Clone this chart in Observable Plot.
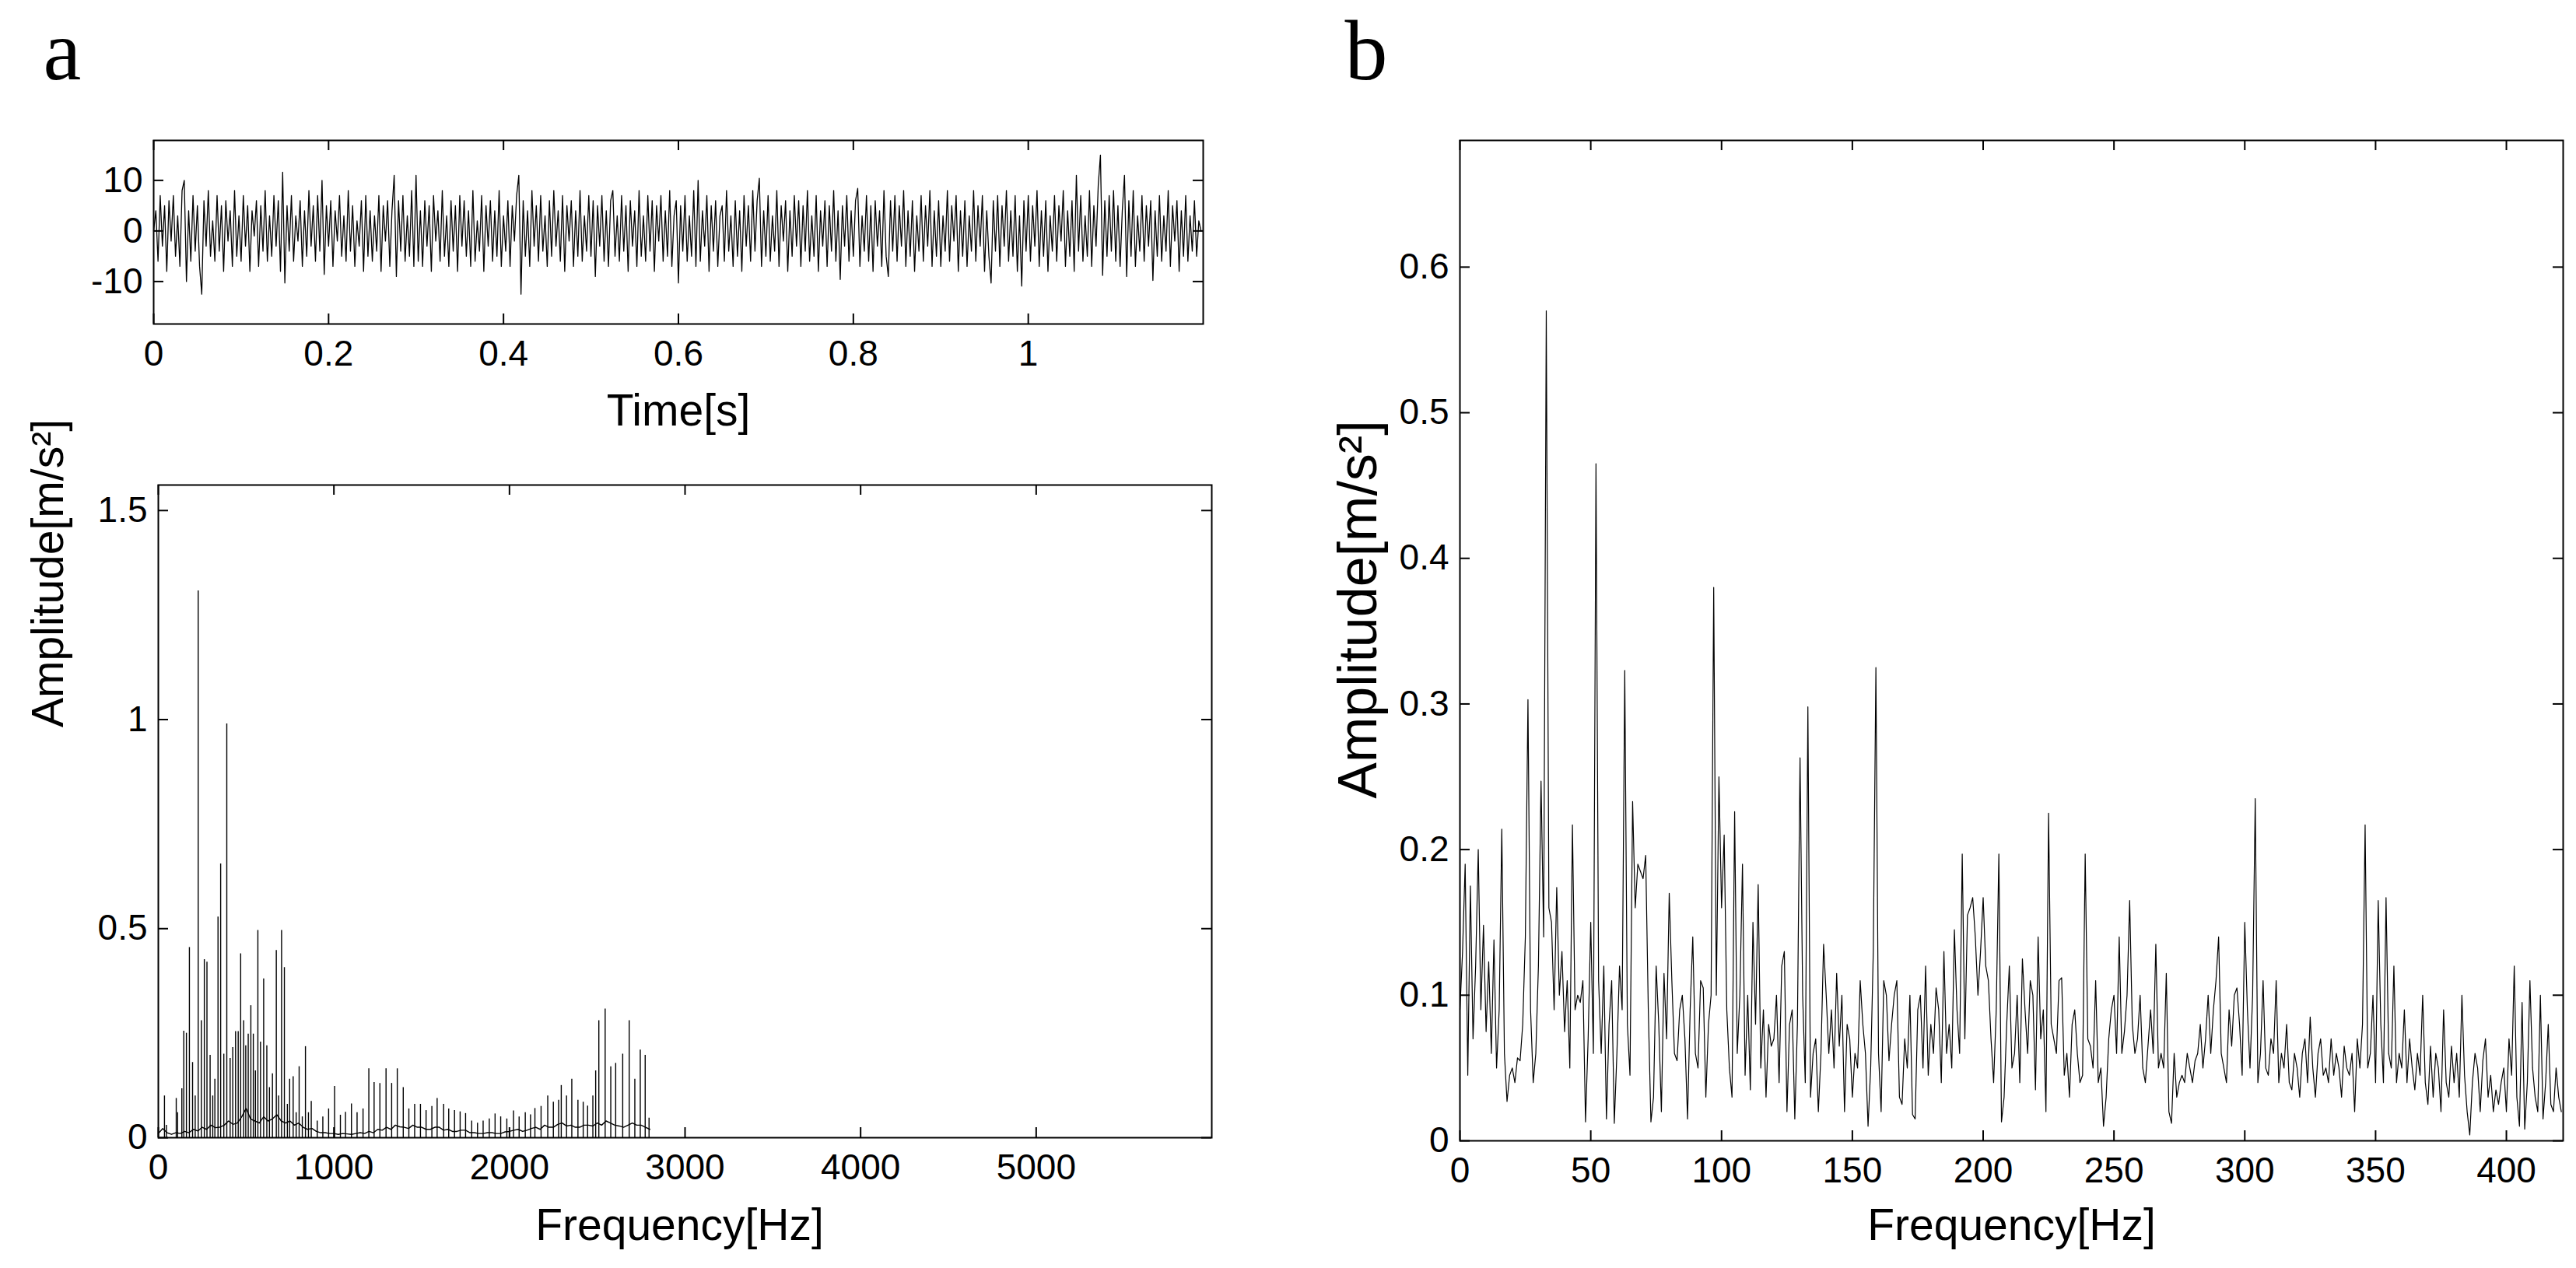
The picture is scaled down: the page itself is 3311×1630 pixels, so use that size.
<!DOCTYPE html>
<html><head><meta charset="utf-8">
<script src="https://cdn.jsdelivr.net/npm/d3@7"></script>
<script src="https://cdn.jsdelivr.net/npm/@observablehq/plot@0.6"></script>
<style>
html,body{margin:0;padding:0;background:#fff;}
#fig{position:relative;width:3311px;height:1630px;background:#fff;overflow:hidden;}
#fig svg{position:absolute;}
</style></head><body><div id="fig"></div>
<script>
// ---------- Panel a (top): time signal, sampled every 2.5 ms ----------
const signalDt = 0.0025;
const signal = [
 0,4,-6,7,-3,5,-8,6,-2,7,-5,3,-7,8,10,-10,4,-6,7,-4,
 5,-7,-12.5,6,-3,8,-5,2,-6,7,-4,5,-8,6,-2,4,-7,8,-5,3,
 -6,7,-3,5,-8,4,-1,6,-7,5,-4,8,-6,3,-5,7,-3,6,-8,11.6,
 -10.3,5,-4,7,-6,3,-2,6,-7,4,-5,8,-3,5,-6,7,-4,10,-8.6,5,
 -3,6,-7,4,-2,7,-5,3,-6,8,-4,5,-7,2,-3,6,-8,7,-5,4,
 -6,3,-4,7,-8,5,-2,6,-7,4,11,-9,6,-4,7,-6,3,-5,8,-7,
 11,-6,4,-7,6,-3,5,-8,7,-2,4,-6,8,-5,3,-7,6,-4,5,-8,
 7,-3,6,-5,4,-7,8,-6,2,-4,7,-8,5,-3,6,-6,4,-5,8,-7,
 3,-4,6,-7,5,-2,7,11,-12.5,6,-5,4,-7,8,-3,5,-6,7,-4,3,
 -7,6,-5,8,-3,4,-6,7,-8,5,-2,6,-7,4,-5,8,-6,3,-4,7,
 -5,6,-9,5,-3,7,-6,4,-7,6,8,-5,3,-6,7,-4,5,-8,6,-3,
 4,-7,8,-5,3,-6,7,-4,6,-8,5,-2,7,-6,4,-5,8,-7,3,6,
 -10.3,5,-4,7,-6,3,-5,8,-7,10,-6,4,-3,7,-8,5,-4,6,-7,3,
 5,-6,8,-4,3,-7,6,-5,4,-8,7,-3,5,-6,8,-4,6,10.4,-7,4,
 -5,7,-6,3,-4,8,-7,5,-2,6,-8,4,-5,7,-3,6,-7,5,-4,8,
 -6,3,-5,7,-8,4,-3,6,-7,5,-4,8,-6,4,-9.6,5,-3,7,-6,4,
 -5,6,8.4,-7,3,-4,7,-6,5,-8,6,-3,4,-7,8,-5,-9,6,-4,7,
 -6,5,-3,8,-7,4,-5,6,-8,3,-4,7,-6,5,-3,8,-7,4,-5,6,
 -7,3,-4,8,-6,5,-2,7,-8,4,-5,6,-7,3,-4,8,-6,5,-3,7,
 -8,4,-5,-10.3,6,-4,7,-7,5,-3,8,-6,4,-5,7,-8,3,-10.9,6,-4,
 7,-6,5,-3,8,-7,4,-5,6,-8,3,-4,7,-6,5,-2,8,-7,4,-5,
 6,-8,11,-4,7,-6,3,-5,8,-7,5,-3,9,15,-8.8,6,-5,7,-4,8,
 -6,5,-7,4,11,-9,6,-5,8,-7,3,-4,7,-6,5,-3,6,-9.8,4,-5,
 7,-6,3,-4,8,-7,5,-2,6,-8,4,-5,7,-6,3,-4,6,-5,2,0
];
const timeTicks = [0, 0.2, 0.4, 0.6, 0.8, 1];
const signalTicks = [-10, 0, 10];

// ---------- Panel a (bottom): spectrum up to 2800 Hz ----------
const aBaseStepHz = 25;
const aBase = [
 0.01,0.022,0.012,0.008,0.012,0.01,0.015,0.012,0.02,0.016,0.025,0.02,0.03,0.024,0.025,0.03,0.04,0.032,0.035,0.05,
 0.07,0.045,0.04,0.035,0.05,0.04,0.045,0.055,0.04,0.035,0.04,0.03,0.035,0.025,0.02,0.022,0.015,0.012,0.012,0.01,
 0.01,0.008,0.01,0.009,0.008,0.01,0.012,0.01,0.015,0.012,0.02,0.018,0.025,0.02,0.03,0.026,0.025,0.022,0.03,0.025,
 0.025,0.02,0.02,0.025,0.025,0.018,0.02,0.015,0.015,0.018,0.018,0.012,0.012,0.01,0.01,0.012,0.012,0.01,0.01,0.014,
 0.015,0.018,0.02,0.015,0.018,0.022,0.025,0.02,0.03,0.025,0.025,0.032,0.035,0.028,0.03,0.025,0.025,0.03,0.03,0.028,
 0.035,0.03,0.04,0.035,0.03,0.028,0.025,0.03,0.035,0.03,0.03,0.025,0.02
];
const aSpikes = [[35,0.10],[46,0.03],[102,0.094],[110,0.06],[134,0.117],[145,0.255],[160,0.25],[177,0.455],[195,0.18],[210,0.10],
 [227,1.308],[245,0.28],[262,0.426],[277,0.42],[295,0.197],[310,0.10],[322,0.14],[340,0.528],[355,0.655],[373,0.20],
 [390,0.99],[409,0.19],[424,0.216],[440,0.254],[455,0.254],[469,0.44],[486,0.28],[498,0.22],[512,0.248],[527,0.316],
 [541,0.248],[553,0.16],[567,0.496],[582,0.229],[600,0.38],[618,0.22],[633,0.12],[650,0.153],[672,0.448],[685,0.10],
 [702,0.496],[718,0.407],[735,0.08],[748,0.14],[768,0.146],[785,0.06],[802,0.17],[820,0.05],[838,0.218],[855,0.06],
 [871,0.087],[905,0.04],[937,0.05],[970,0.069],[1004,0.123],[1037,0.054],[1066,0.061],[1100,0.081],[1132,0.06],[1166,0.069],
 [1199,0.165],[1229,0.132],[1262,0.13],[1297,0.165],[1329,0.13],[1361,0.165],[1395,0.12],[1427,0.069],[1460,0.08],[1493,0.08],
 [1525,0.065],[1558,0.075],[1588,0.094],[1625,0.08],[1654,0.069],[1687,0.065],[1719,0.062],[1750,0.058],[1785,0.04],[1818,0.035],
 [1850,0.04],[1885,0.045],[1918,0.057],[1950,0.05],[1985,0.045],[2023,0.064],[2055,0.05],[2090,0.06],[2120,0.055],[2145,0.07],
 [2180,0.075],[2218,0.10],[2250,0.085],[2280,0.09],[2295,0.125],[2325,0.10],[2355,0.14],[2390,0.09],[2420,0.085],[2445,0.076],
 [2475,0.10],[2491,0.16],[2509,0.28],[2545,0.308],[2577,0.17],[2605,0.178],[2645,0.20],[2682,0.28],[2714,0.14],[2745,0.21],
 [2773,0.197],[2795,0.047]];
const aFreqTicks = [0, 1000, 2000, 3000, 4000, 5000];
const aAmpTicks = [0, 0.5, 1, 1.5];

// ---------- Panel b: zoomed spectrum 0-421 Hz, 1 Hz bins ----------
const bStepHz = 1;
const bAmp = [
 0.09,0.13,0.19,0.045,0.175,0.07,0.12,0.2,0.09,0.148,0.075,0.123,0.06,0.138,0.05,0.09,0.214,0.06,0.027,0.045,
 0.05,0.04,0.057,0.055,0.08,0.14,0.303,0.09,0.04,0.06,0.12,0.247,0.14,0.57,0.16,0.15,0.09,0.174,0.1,0.13,
 0.075,0.11,0.05,0.217,0.09,0.1,0.095,0.11,0.013,0.07,0.15,0.06,0.465,0.11,0.06,0.12,0.015,0.08,0.11,0.012,
 0.06,0.12,0.09,0.323,0.08,0.045,0.233,0.16,0.19,0.185,0.18,0.196,0.09,0.013,0.03,0.12,0.08,0.02,0.115,0.07,
 0.17,0.11,0.06,0.055,0.09,0.1,0.07,0.015,0.09,0.14,0.06,0.05,0.11,0.105,0.03,0.08,0.1,0.38,0.1,0.25,
 0.16,0.21,0.09,0.05,0.03,0.226,0.06,0.1,0.19,0.045,0.1,0.035,0.15,0.08,0.176,0.05,0.09,0.03,0.08,0.065,
 0.07,0.1,0.04,0.12,0.13,0.02,0.08,0.09,0.015,0.08,0.263,0.1,0.04,0.298,0.03,0.06,0.07,0.02,0.06,0.135,
 0.1,0.06,0.09,0.05,0.115,0.065,0.1,0.02,0.08,0.07,0.03,0.06,0.05,0.11,0.08,0.06,0.01,0.05,0.13,0.325,
 0.06,0.02,0.11,0.1,0.055,0.08,0.1,0.11,0.03,0.025,0.07,0.05,0.1,0.018,0.015,0.09,0.1,0.05,0.12,0.045,
 0.08,0.06,0.105,0.09,0.04,0.13,0.06,0.08,0.05,0.145,0.09,0.06,0.197,0.07,0.155,0.16,0.167,0.14,0.1,0.13,
 0.167,0.12,0.11,0.07,0.04,0.09,0.197,0.013,0.03,0.08,0.12,0.05,0.06,0.1,0.04,0.125,0.09,0.06,0.11,0.1,
 0.035,0.14,0.07,0.09,0.02,0.225,0.08,0.07,0.06,0.11,0.112,0.045,0.06,0.03,0.08,0.09,0.06,0.04,0.045,0.197,
 0.07,0.065,0.05,0.11,0.04,0.05,0.01,0.03,0.07,0.09,0.1,0.06,0.14,0.06,0.075,0.1,0.165,0.08,0.06,0.07,
 0.1,0.05,0.04,0.065,0.09,0.06,0.135,0.05,0.06,0.05,0.115,0.02,0.012,0.06,0.03,0.04,0.045,0.04,0.06,0.05,
 0.04,0.055,0.06,0.08,0.05,0.07,0.1,0.06,0.09,0.11,0.14,0.06,0.05,0.04,0.09,0.065,0.1,0.105,0.08,0.045,
 0.15,0.09,0.05,0.1,0.235,0.04,0.06,0.11,0.05,0.045,0.07,0.06,0.11,0.04,0.06,0.05,0.08,0.04,0.035,0.06,
 0.05,0.03,0.06,0.07,0.04,0.085,0.05,0.03,0.06,0.07,0.045,0.05,0.04,0.07,0.045,0.06,0.05,0.03,0.065,0.05,
 0.045,0.06,0.02,0.07,0.05,0.08,0.217,0.05,0.06,0.1,0.04,0.165,0.08,0.04,0.167,0.06,0.05,0.12,0.04,0.06,
 0.05,0.09,0.04,0.07,0.05,0.035,0.06,0.045,0.1,0.04,0.025,0.065,0.03,0.06,0.05,0.02,0.09,0.04,0.03,0.065,
 0.04,0.06,0.03,0.1,0.045,0.02,0.004,0.04,0.06,0.05,0.02,0.055,0.07,0.03,0.045,0.02,0.035,0.025,0.04,0.05,
 0.02,0.07,0.045,0.12,0.03,0.01,0.095,0.008,0.04,0.11,0.05,0.03,0.02,0.1,0.015,0.04,0.08,0.025,0.02,0.05,
 0.03,0.02
];
const bFreqTicks = [0, 50, 100, 150, 200, 250, 300, 350, 400];
const bAmpTicks = [0, 0.1, 0.2, 0.3, 0.4, 0.5, 0.6];

// ---------- drawing ----------
const SANS = "'Liberation Sans', Arial, sans-serif";
const SERIF = "'Liberation Serif', 'Times New Roman', serif";
const TICK_FS = 46, LABEL_FS = 57, B_YLABEL_FS = 70, LETTER_FS = 110, TICK_LEN = 13;
const fig = document.getElementById("fig");

function panel({left, top, width, height, frame, xDomain, yDomain, xTicks, yTicks, marks}) {
  const [fx0, fx1, fy0, fy1] = frame;
  const innerW = fx1 - fx0, innerH = fy1 - fy0;
  const svg = Plot.plot({
    width, height,
    marginLeft: fx0 - left, marginRight: left + width - fx1,
    marginTop: fy0 - top, marginBottom: top + height - fy1,
    x: {domain: xDomain, label: null},
    y: {domain: yDomain, label: null},
    style: {fontFamily: SANS, fontSize: TICK_FS + "px", color: "#000", background: "transparent", overflow: "visible"},
    marks: [
      ...marks,
      Plot.tickX(xTicks, {x: d => d, insetTop: innerH - TICK_LEN, stroke: "#000", strokeWidth: 2}),
      Plot.tickX(xTicks, {x: d => d, insetBottom: innerH - TICK_LEN, stroke: "#000", strokeWidth: 2}),
      Plot.tickY(yTicks, {y: d => d, insetRight: innerW - TICK_LEN, stroke: "#000", strokeWidth: 2}),
      Plot.tickY(yTicks, {y: d => d, insetLeft: innerW - TICK_LEN, stroke: "#000", strokeWidth: 2}),
      Plot.axisX(xTicks, {anchor: "bottom", tickSize: 0, tickPadding: 21, tickFormat: d => String(d), fontSize: TICK_FS, label: null}),
      Plot.axisY(yTicks, {anchor: "left", tickSize: 0, tickPadding: 14, tickFormat: d => String(d), fontSize: TICK_FS, label: null}),
      Plot.frame({stroke: "#000", strokeWidth: 2})
    ]
  });
  svg.style.left = left + "px";
  svg.style.top = top + "px";
  fig.appendChild(svg);
}

// a (top)
panel({
  left: 0, top: 0, width: 1600, height: 600,
  frame: [197, 1546, 180, 416],
  xDomain: [0, 1.2], yDomain: [-18.4, 17.9],
  xTicks: timeTicks, yTicks: signalTicks,
  marks: [
    Plot.line(signal, {x: (d, i) => i * signalDt, y: d => d, stroke: "#000", strokeWidth: 1.3}),
    Plot.text(["Time[s]"], {text: d => d, frameAnchor: "bottom", textAnchor: "middle", dy: 130, lineAnchor: "bottom", fontSize: LABEL_FS, fontFamily: SANS}),
    Plot.text(["a"], {text: d => d, frameAnchor: "top-left", textAnchor: "start", dx: -142, dy: -79, lineAnchor: "bottom", fontSize: LETTER_FS, fontFamily: SERIF})
  ]
});

// a (bottom)
panel({
  left: 0, top: 500, width: 1600, height: 1130,
  frame: [203, 1557, 623, 1462],
  xDomain: [0, 6000], yDomain: [0, 1.561],
  xTicks: aFreqTicks, yTicks: aAmpTicks,
  marks: [
    Plot.ruleX(aSpikes, {x: d => d[0], y1: 0, y2: d => d[1], stroke: "#000", strokeWidth: 1.4}),
    Plot.line(aBase, {x: (d, i) => i * aBaseStepHz, y: d => d, stroke: "#000", strokeWidth: 1.4}),
    Plot.text(["Frequency[Hz]"], {text: d => d, frameAnchor: "bottom", textAnchor: "middle", dx: -7, dy: 131, lineAnchor: "bottom", fontSize: LABEL_FS, fontFamily: SANS}),
    Plot.text(["Amplitude[m/s²]"], {text: d => d, frameAnchor: "left", textAnchor: "middle", rotate: -90, dx: -123, dy: -306, lineAnchor: "bottom", fontSize: LABEL_FS, fontFamily: SANS})
  ]
});

// b
panel({
  left: 1600, top: 0, width: 1711, height: 1630,
  frame: [1876, 3294, 180, 1466],
  xDomain: [0, 421.7], yDomain: [0, 0.687],
  xTicks: bFreqTicks, yTicks: bAmpTicks,
  marks: [
    Plot.line(bAmp, {x: (d, i) => i * bStepHz, y: d => d, stroke: "#000", strokeWidth: 1.2}),
    Plot.text(["Frequency[Hz]"], {text: d => d, frameAnchor: "bottom", textAnchor: "middle", dy: 127, lineAnchor: "bottom", fontSize: LABEL_FS, fontFamily: SANS}),
    Plot.text(["Amplitude[m/s²]"], {text: d => d, frameAnchor: "left", textAnchor: "middle", rotate: -90, dx: -108, dy: -40, lineAnchor: "bottom", fontSize: B_YLABEL_FS, fontFamily: SANS}),
    Plot.text(["b"], {text: d => d, frameAnchor: "top-left", textAnchor: "start", dx: -148, dy: -79, lineAnchor: "bottom", fontSize: LETTER_FS, fontFamily: SERIF})
  ]
});
</script>
</body></html>
